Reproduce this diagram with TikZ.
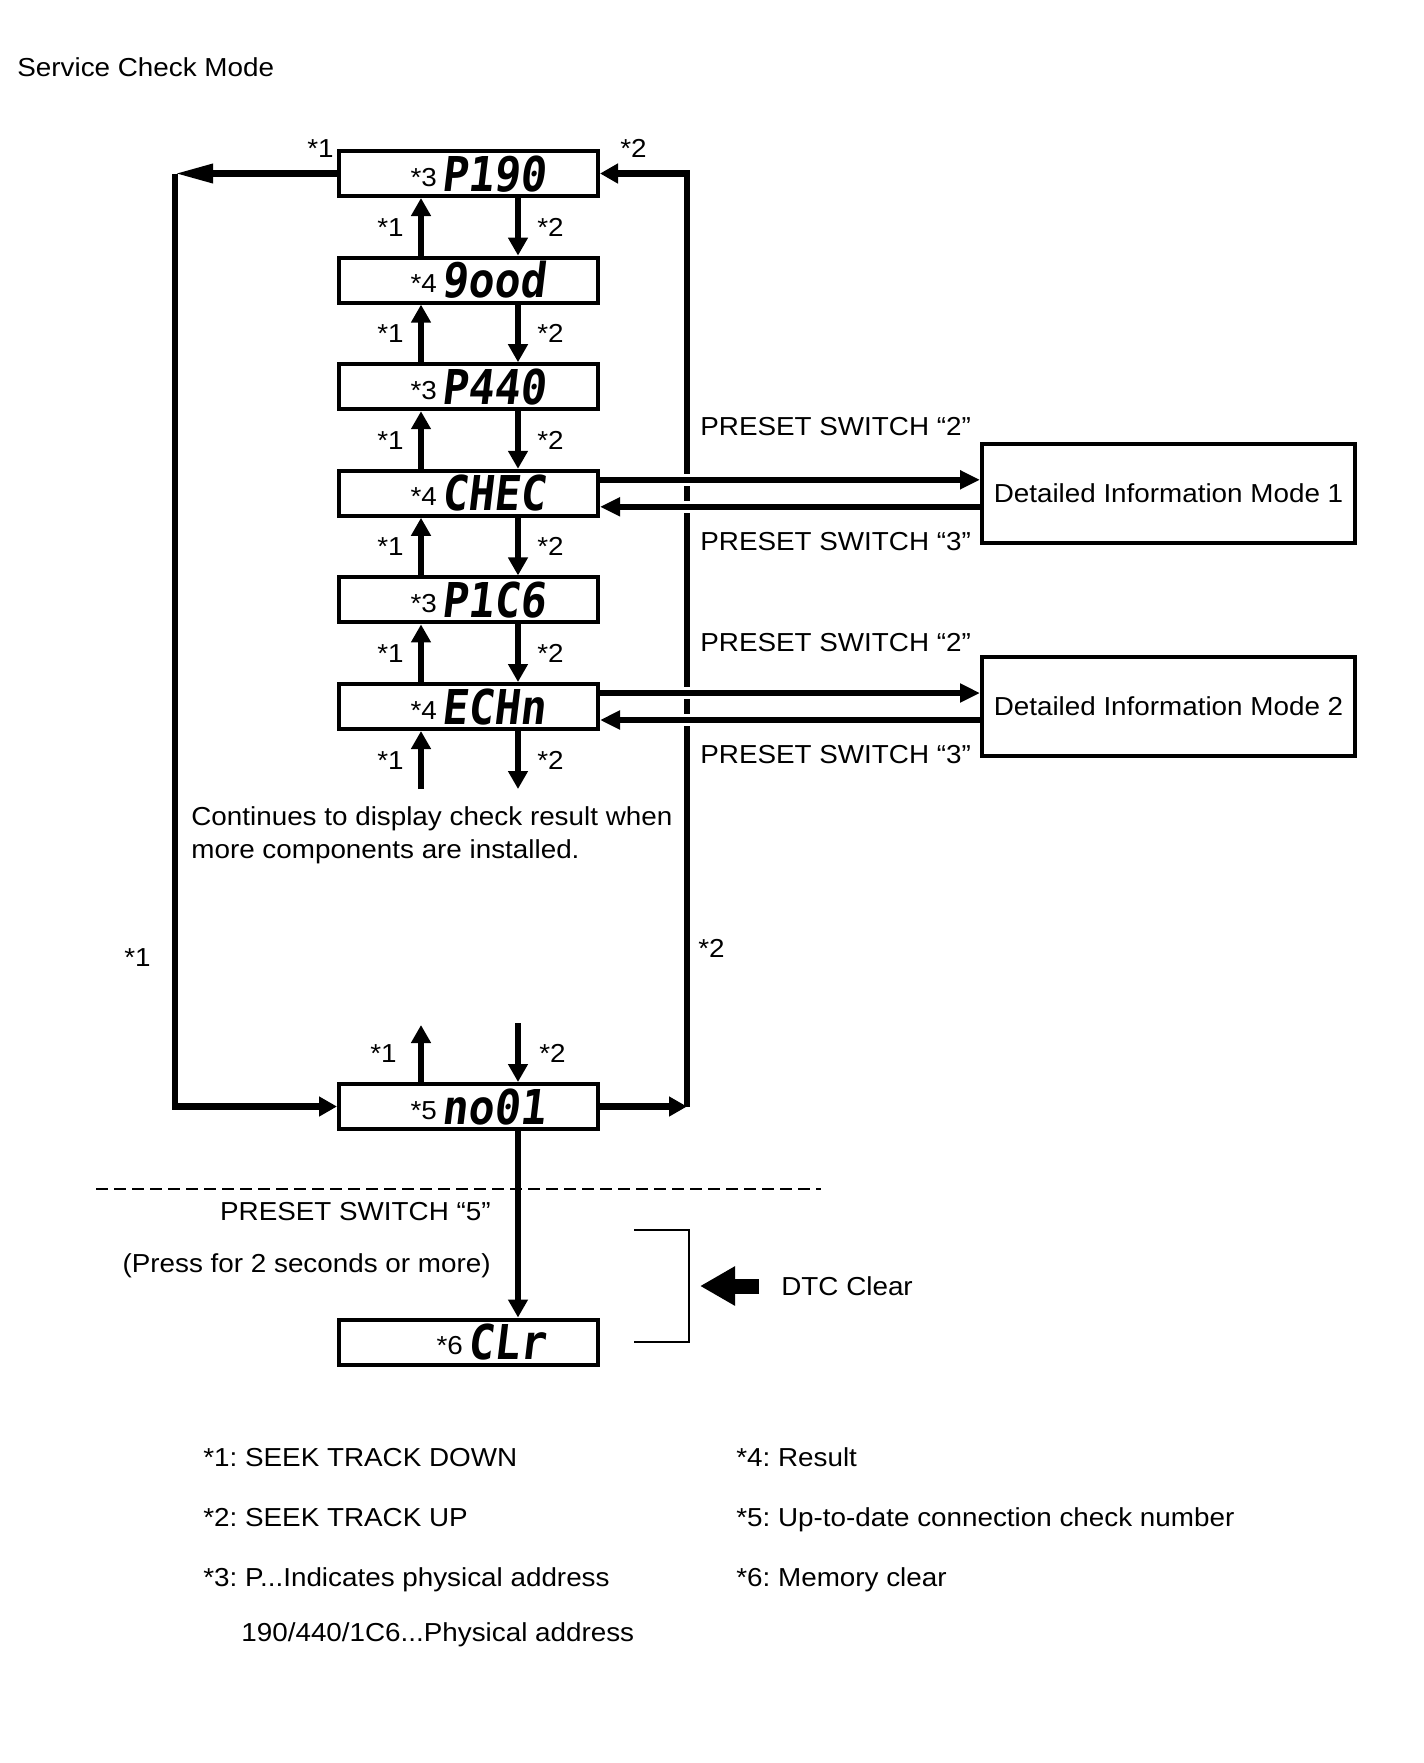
\documentclass[tikz,border=0pt]{standalone}
\usepackage{fontspec}
\setmainfont[FakeStretch=1.07]{Liberation Sans}
\newfontfamily\lcdfont[FakeSlant=0.12,FakeStretch=0.9]{DejaVu Sans Mono}
\usetikzlibrary{arrows.meta,calc}
\frenchspacing

\tikzset{
  disp/.style={draw, line width=2pt, minimum width=129.5pt, minimum height=22.5pt,
    text width=77.5pt, align=right, inner xsep=0pt, inner ysep=0pt,
    text height=17.5pt, text depth=0pt},
  infobox/.style={draw, line width=2pt, minimum width=186.5pt, minimum height=49.5pt},
  conn/.style={line width=3.25pt, -{Triangle[length=9pt,width=9.5pt]}},
  lbl/.style={inner sep=0pt, text height=9.3pt, text depth=0pt},
  gap/.style={white, line width=6pt}
}
\newcommand{\lcd}[2]{\raisebox{2.5pt}{*#1}\hspace{2.5pt}{\lcdfont\bfseries\fontsize{24}{24}\selectfont #2}}

\begin{document}
\begin{tikzpicture}[x=0.5pt, y=-0.5pt, font=\fontsize{13}{16.5}\selectfont]
\useasboundingbox (0,0) rectangle (1424,1763);

\node[lbl, anchor=west] (title) at (17,67) {Service Check Mode};

\node[disp] (p190) at (468.5,173.5) {\lcd{3}{P190}};
\node[disp] (good) at (468.5,280.1) {\lcd{4}{9ood}};
\node[disp] (p440) at (468.5,386.7) {\lcd{3}{P440}};
\node[disp] (chec) at (468.5,493.3) {\lcd{4}{CHEC}};
\node[disp] (p1c6) at (468.5,599.9) {\lcd{3}{P1C6}};
\node[disp] (echn) at (468.5,706.5) {\lcd{4}{ECHn}};
\node[disp] (no01) at (468.5,1106.5) {\lcd{5}{no01}};
\node[disp] (clr) at (468.5,1342) {\lcd{6}{CLr}};

\node[infobox] (dim1) at (1168.5,493.3) {Detailed Information Mode 1};
\node[infobox] (dim2) at (1168.5,706.5) {Detailed Information Mode 2};

\coordinate (ux) at (421,0);
\coordinate (dx) at (518,0);
\coordinate (lx) at (175,0);
\coordinate (rx) at (687,0);

\foreach \a/\b in {p190/good, good/p440, p440/chec, chec/p1c6, p1c6/echn}{
  \draw[conn] (\b.north -| ux) -- (\a.south -| ux);
  \draw[conn] (\a.south -| dx) -- (\b.north -| dx);
  \node[lbl, anchor=east] (k1\a) at ($(\a.south -| ux)!0.5!(\b.north -| ux)+(-17,0)$) {*1};
  \node[lbl, anchor=west] (k2\a) at ($(\a.south -| dx)!0.5!(\b.north -| dx)+(19,0)$) {*2};
}

\coordinate (e1) at (421,789);
\coordinate (e2) at (518,789);
\coordinate (n1) at (421,1025);
\coordinate (n2) at (518,1023);
\draw[conn] (e1) -- (echn.south -| e1);
\draw[conn] (echn.south -| e2) -- (e2);
\draw[conn] (no01.north -| n1) -- (n1);
\draw[conn] (n2) -- (no01.north -| n2);
\node[lbl, anchor=east] (k1e) at (404,760) {*1};
\node[lbl, anchor=west] (k2e) at (537,760) {*2};
\node[lbl, anchor=east] (k1n) at (397,1053) {*1};
\node[lbl, anchor=west] (k2n) at (539,1053) {*2};

\node[anchor=north west, align=left, inner sep=0pt] (cont) at (191,806)
  {Continues to display check result when\\more components are installed.};

% outer loops
\draw[conn, -{Triangle[length=19pt,width=9pt]}] (p190.west) -- (p190.west -| lx);
\draw[conn, line join=miter] (p190.west -| lx) |- (no01.west);
\draw[conn] (no01.east) -- (no01.east -| rx);
\draw[conn, line join=miter] (no01.east -| rx) |- (p190.east);
\node[lbl, anchor=east] (k1t) at (334,148) {*1};
\node[lbl, anchor=west] (k2t) at (620,148) {*2};
\node[lbl, anchor=east] (k1l) at (151,957) {*1};
\node[lbl, anchor=west] (k2r) at (698,948) {*2};

\foreach \n/\m in {chec/dim1, echn/dim2}{
  \draw[gap] ($(\n.east -| rx)+(-10,-13.5)$) -- ++(20,0);
  \draw[gap] ($(\n.east -| rx)+(-10,13.5)$) -- ++(20,0);
  \draw[conn, -{Triangle[length=10pt,width=9pt]}] ($(\n.east)+(0,-13.5)$) -- ($(\m.west)+(0,-13.5)$);
  \draw[conn, -{Triangle[length=10pt,width=9pt]}] ($(\m.west)+(0,13.5)$) -- ($(\n.east)+(0,13.5)$);
}
\node[lbl, anchor=west] (ps2a) at (700,426) {PRESET SWITCH “2”};
\node[lbl, anchor=west] (ps3a) at (700,541) {PRESET SWITCH “3”};
\node[lbl, anchor=west] (ps2b) at (700,642) {PRESET SWITCH “2”};
\node[lbl, anchor=west] (ps3b) at (700,754) {PRESET SWITCH “3”};

\draw[line width=1.25pt, dash pattern=on 6pt off 3pt] (96,1189) -- (821,1189);
\draw[conn] (no01.south -| dx) -- (clr.north -| dx);
\node[lbl, anchor=east] (ps5) at (491,1211) {PRESET SWITCH “5”};
\node[lbl, anchor=east] (press) at (491,1263) {(Press for 2 seconds or more)};

\draw[line width=1.25pt] (634,1230) -| (689,1342) -- (634,1342);
\node[lbl, anchor=west] (dtc) at (781,1286) {DTC Clear};
\coordinate (dtctip) at (700,1286);
\draw[line width=7.5pt, -{Triangle[length=17.5pt,width=18.5pt]}] ($(dtc.west)+(-22,0)$) -- (dtctip);

\node[lbl, anchor=west] (note1) at (203,1457) {*1: SEEK TRACK DOWN};
\node[lbl, anchor=west] (note2) at (203,1517) {*2: SEEK TRACK UP};
\node[lbl, anchor=west] (note3) at (203,1577) {*3: P...Indicates physical address};
\node[lbl, anchor=west] (note3b) at (241,1632) {190/440/1C6...Physical address};
\node[lbl, anchor=west] (note4) at (736,1457) {*4: Result};
\node[lbl, anchor=west] (note5) at (736,1517) {*5: Up-to-date connection check number};
\node[lbl, anchor=west] (note6) at (736,1577) {*6: Memory clear};

\end{tikzpicture}
\end{document}
